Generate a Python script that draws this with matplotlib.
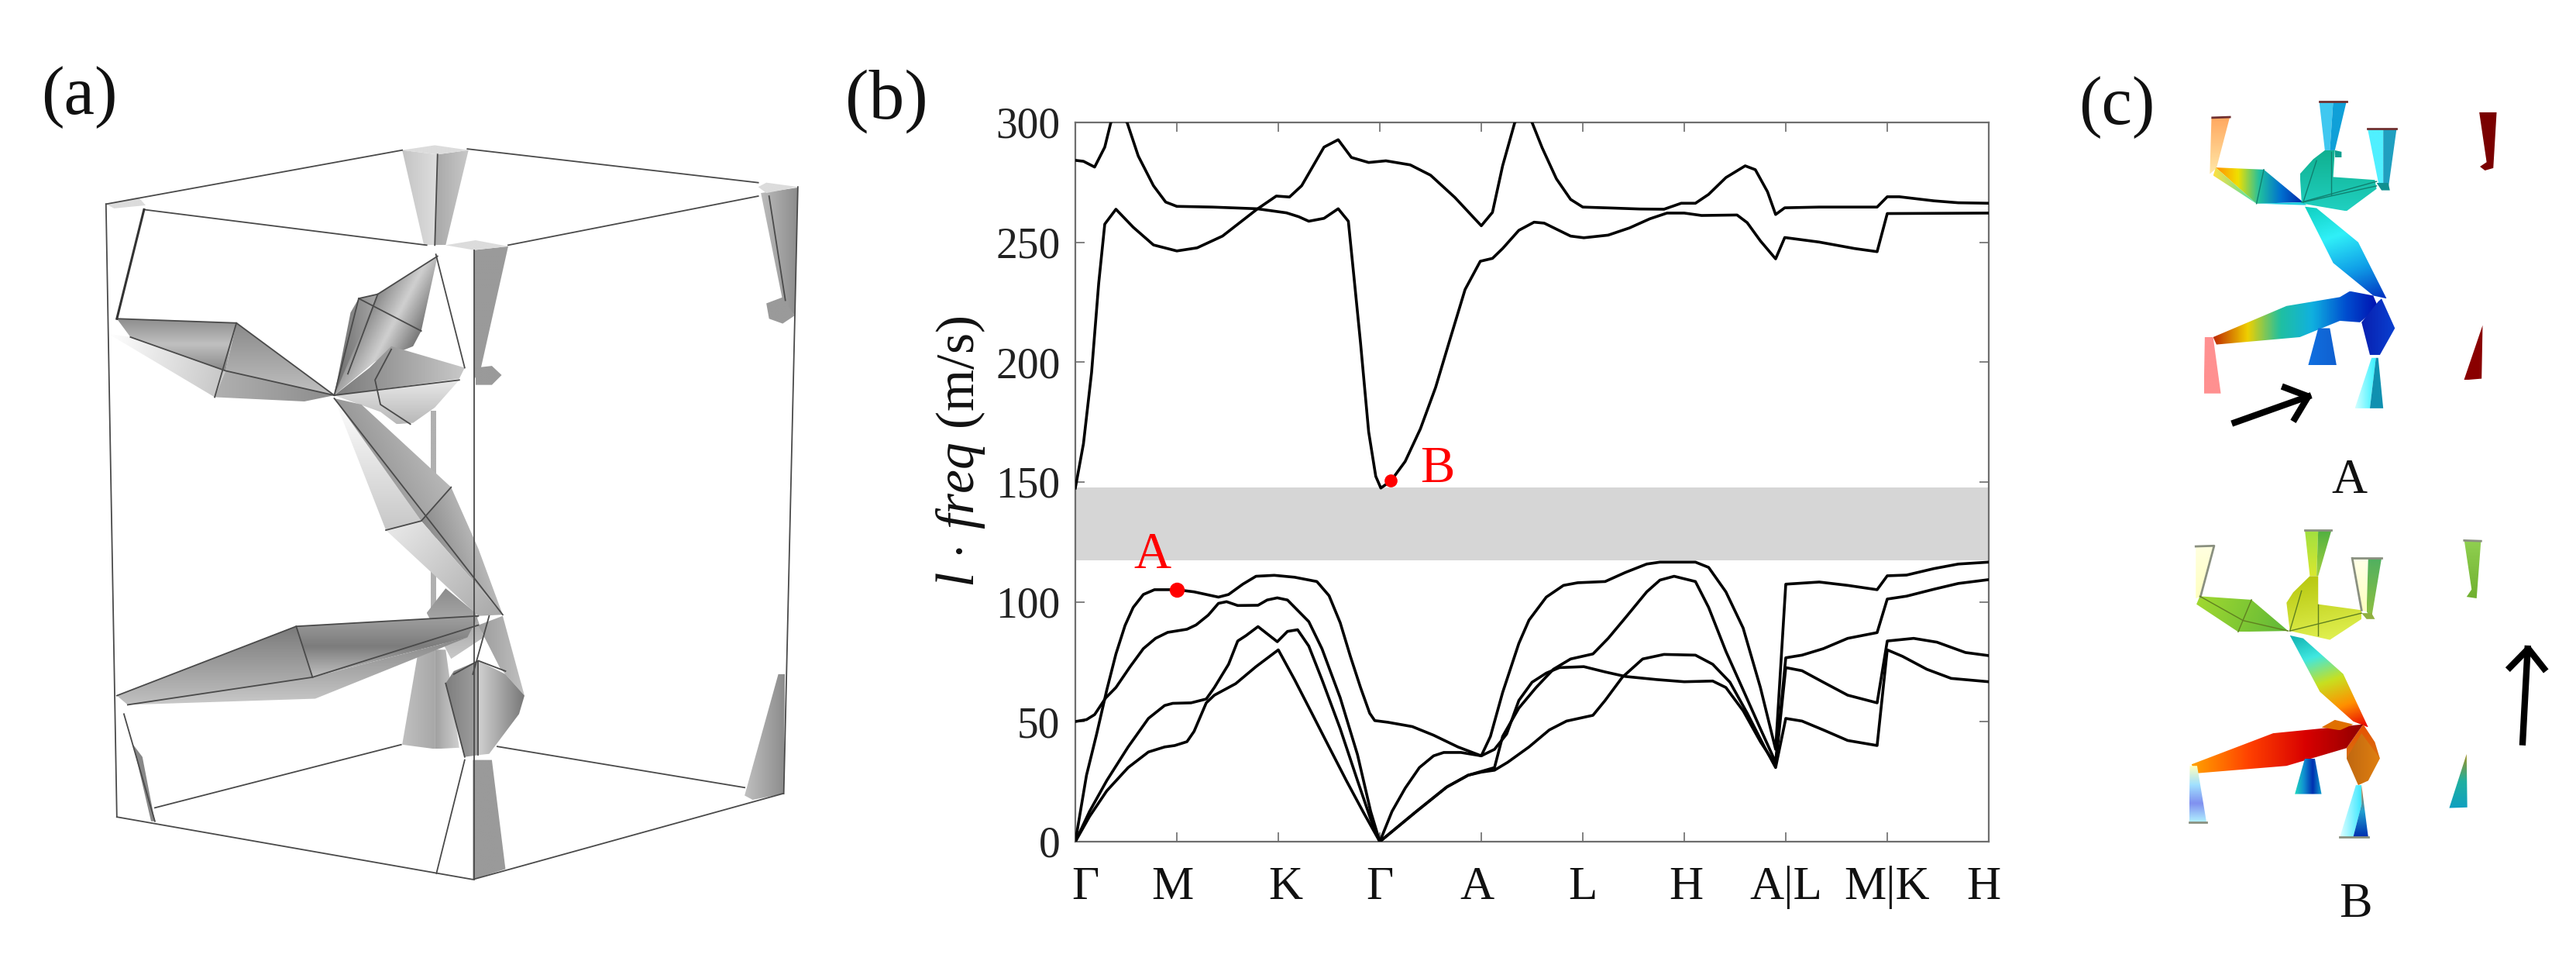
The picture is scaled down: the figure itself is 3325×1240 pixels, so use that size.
import numpy as np
import matplotlib
matplotlib.use('Agg')
import matplotlib.pyplot as plt
from matplotlib.colors import LinearSegmentedColormap
from matplotlib.patches import Polygon

plt.rcParams['font.family'] = ['Liberation Serif', 'DejaVu Serif']
plt.rcParams['mathtext.fontset'] = 'custom'
plt.rcParams['mathtext.rm'] = 'Liberation Serif'
plt.rcParams['mathtext.it'] = 'Liberation Serif:italic'

W, H = 3325, 1240

# ---------- panel (b) data ----------
x_tick_labels = ['Γ', 'M', 'K', 'Γ', 'A', 'L', 'H', 'A|L', 'M|K', 'H']
x_label_pos = [0.10, 0.96, 2.07, 3.0, 3.96, 5.0, 6.02, 7.0, 8.0, 8.95]
y_ticks = [0, 50, 100, 150, 200, 250, 300]
gap_low, gap_high = 117.3, 147.8
point_a = (1.0, 105.0)
point_b = (3.11, 150.5)

b1_t = [0, .11, .21, .31, .40, .49, .57, .67, .78, 1.0, 1.17, 1.41, 1.51, 1.65, 1.78, 1.96, 2.16, 2.38, 2.50, 2.61, 2.71, 2.81, 2.90, 2.95, 3.08, 3.32, 3.53, 3.77, 4.0, 4.09, 4.21, 4.37, 4.47, 4.64, 4.81, 4.95, 5.22, 5.42, 5.63, 5.76, 6.11, 6.24, 6.41, 6.58, 6.75, 6.90, 7.0, 7.33, 7.61, 7.90, 8.0, 8.19, 8.46, 8.70, 9.0]
b1_v = [0, 27.7, 44.9, 63.3, 78.3, 90.2, 97.7, 103.1, 105.1, 105.1, 104.2, 102.0, 103.1, 107.4, 110.7, 111.1, 110.3, 108.5, 102.6, 91.3, 77.3, 64.3, 53.6, 50.5, 49.8, 48.0, 44.4, 39.5, 35.8, 43.9, 62.2, 82.7, 92.4, 102.0, 106.9, 108.0, 108.5, 112.3, 115.8, 116.6, 116.6, 114.4, 104.2, 89.1, 64.3, 38.5, 107.4, 108.3, 106.9, 105.1, 110.9, 111.2, 113.9, 115.8, 116.6]

b2_t = [0, .11, .19, .30, .40, .54, .67, .79, .91, 1.10, 1.19, 1.31, 1.41, 1.49, 1.60, 1.80, 1.89, 1.99, 2.09, 2.30, 2.43, 2.61, 2.78, 2.91, 3.0, 3.36, 3.66, 3.87, 4.0, 4.13, 4.21, 4.37, 4.54, 4.71, 4.88, 5.10, 5.25, 5.42, 5.63, 5.76, 5.90, 6.11, 6.24, 6.41, 6.58, 6.75, 6.90, 7.0, 7.16, 7.37, 7.61, 7.90, 8.0, 8.19, 8.46, 8.70, 9.0]
b2_v = [50.1, 50.9, 53.0, 60.0, 64.3, 73.0, 80.5, 84.8, 87.3, 88.6, 90.4, 94.5, 99.4, 100.1, 98.5, 98.6, 100.8, 101.7, 100.8, 91.8, 80.5, 60.0, 36.3, 12.6, 0, 12.6, 22.8, 27.7, 29.3, 30.9, 43.9, 55.7, 64.3, 71.9, 76.2, 78.3, 84.8, 93.4, 104.2, 109.1, 110.7, 108.5, 97.7, 79.4, 63.3, 47.1, 33.1, 76.7, 77.8, 80.5, 84.8, 87.2, 101.2, 102.4, 105.3, 107.7, 109.3]

b3_t = [0, .14, .31, .52, .72, .88, .96, 1.14, 1.29, 1.37, 1.51, 1.60, 1.68, 1.80, 1.99, 2.09, 2.19, 2.30, 2.43, 2.61, 2.78, 2.91, 3.0, 3.12, 3.25, 3.39, 3.53, 3.63, 3.80, 4.0, 4.13, 4.25, 4.37, 4.50, 4.64, 4.77, 5.01, 5.22, 5.42, 5.73, 6.0, 6.28, 6.41, 6.58, 6.75, 6.90, 7.0, 7.16, 7.37, 7.61, 7.90, 8.0, 8.26, 8.49, 8.77, 9.0]
b3_v = [0, 12.6, 25.5, 39.5, 51.4, 56.8, 57.7, 57.9, 59.5, 64.3, 74.0, 83.7, 85.9, 89.7, 83.4, 87.7, 88.4, 81.6, 67.6, 47.1, 25.5, 9.4, 0, 12.6, 22.3, 30.9, 35.8, 37.2, 37.2, 35.8, 38.5, 44.9, 58.9, 66.5, 70.3, 72.6, 73.0, 70.8, 68.9, 67.6, 66.7, 67.0, 64.3, 54.6, 41.7, 32.0, 72.6, 71.3, 66.5, 61.1, 57.9, 83.7, 84.8, 83.2, 78.9, 77.6]

b4_t = [0, .14, .31, .52, .72, .88, .98, 1.10, 1.17, 1.29, 1.37, 1.58, 1.78, 2.0, 2.16, 2.33, 2.50, 2.67, 2.84, 3.0, 3.36, 3.66, 3.87, 4.0, 4.13, 4.26, 4.47, 4.67, 4.84, 5.10, 5.22, 5.39, 5.59, 5.80, 6.11, 6.28, 6.45, 6.62, 6.79, 6.90, 7.0, 7.16, 7.37, 7.61, 7.90, 8.0, 8.15, 8.39, 8.63, 9.0]
b4_v = [0, 10.5, 21.2, 30.9, 37.4, 39.5, 40.1, 41.7, 46.0, 57.9, 61.1, 65.9, 73.0, 80.0, 67.6, 53.6, 39.5, 25.5, 12.1, 0, 12.6, 22.8, 27.7, 29.0, 29.8, 33.1, 39.5, 46.6, 50.3, 52.7, 58.9, 68.6, 76.2, 78.1, 77.8, 74.0, 66.5, 53.6, 39.5, 30.9, 51.4, 50.3, 46.6, 42.2, 40.1, 80.0, 77.3, 71.9, 68.1, 66.7]

b5_t = [0, .08, .16, .23, .29, .40, .57, .77, 1.0, 1.20, 1.45, 1.79, 1.98, 2.11, 2.23, 2.45, 2.59, 2.72, 2.89, 3.06, 3.30, 3.50, 3.74, 4.0, 4.11, 4.21, 4.33, 4.42, 4.50, 4.60, 4.74, 4.88, 5.0, 5.29, 5.56, 5.80, 5.97, 6.11, 6.24, 6.41, 6.60, 6.70, 6.82, 6.90, 6.99, 7.33, 7.90, 8.0, 8.12, 8.46, 8.70, 9.0]
b5_v = [147.5, 166, 195.7, 232.8, 257.6, 263.8, 256.3, 248.9, 246.4, 247.7, 252.6, 263.8, 269.3, 268.9, 273.6, 289.7, 292.8, 285.4, 283.3, 284.0, 282.3, 278.0, 268.7, 256.9, 262.5, 281.9, 300, 304.5, 300, 289.4, 276.5, 267.9, 264.7, 264.3, 263.9, 263.8, 266.3, 266.3, 270.0, 277.0, 281.9, 280.3, 271.1, 261.6, 264.4, 264.7, 264.7, 269.0, 269.0, 267.3, 266.5, 266.3]

b6_t = [0, .08, .19, .29, .35, .42, .51, .62, .77, .89, 1.0, 1.35, 1.79, 2.08, 2.20, 2.30, 2.45, 2.59, 2.69, 2.74, 2.81, 2.89, 2.96, 3.01, 3.11, 3.25, 3.40, 3.55, 3.69, 3.84, 3.99, 4.11, 4.21, 4.37, 4.52, 4.62, 4.74, 4.88, 5.01, 5.25, 5.46, 5.66, 5.83, 6.0, 6.17, 6.52, 6.62, 6.75, 6.90, 6.99, 7.33, 7.68, 7.90, 8.0, 9.0]
b6_v = [284.2, 283.8, 281.4, 289.7, 300, 304, 300, 286, 273.6, 266.8, 265.0, 264.7, 264.0, 262.3, 260.7, 258.8, 260.0, 264.0, 258.8, 237.8, 208.1, 171, 152.4, 147.5, 150.5, 158.6, 172.2, 189.5, 209.3, 230.3, 242.1, 243.3, 247.4, 255.0, 258.4, 258.0, 255.5, 252.6, 251.9, 253.0, 256.0, 259.8, 262.2, 262.2, 261.2, 261.4, 258.2, 250.6, 243.1, 252.0, 250.1, 247.4, 246.1, 262.0, 262.2]

bands = [(b1_t, b1_v), (b2_t, b2_v), (b3_t, b3_v), (b4_t, b4_v), (b5_t, b5_v), (b6_t, b6_v)]

# ---------- panel (a) sketch: gray shaded solids, in sketch units ----------
LG = ['#f4f4f4', '#c8c8c8']
MG = ['#c4c4c4', '#8c8c8c']
DG = ['#8a8a8a', '#b8b8b8']
FL = ['#9a9a9a', '#9a9a9a']
CAP = ['#dcdcdc', '#dcdcdc']
sketch_a = [
    ([(740,1215),(770,1060),(800,1060),(800,1222)], ['#c0c0c0','#a8a8a8'], (1,0)),
    ([(800,1060),(820,1060),(845,1220),(800,1222)], ['#a0a0a0','#d0d0d0'], (1,0)),
    ([(793,670),(802,670),(802,1000),(793,1000)], ['#b0b0b0','#b0b0b0'], (1,0)),
    ([(740,245),(805,252),(800,400),(780,400)], ['#c4c4c4','#dedede'], (1,0)),
    ([(805,252),(862,245),(820,400),(800,400)], ['#a8a8a8','#c8c8c8'], (1,0)),
    ([(740,245),(800,237),(862,245),(805,252)], CAP, (1,0)),
    ([(872,408),(935,402),(885,600),(872,620)], FL, (1,0)),
    ([(820,400),(875,392),(935,402),(872,408)], CAP, (1,0)),
    ([(875,600),(905,597),(923,612),(905,628),(875,628)], FL, (1,0)),
    ([(1400,315),(1468,306),(1462,515),(1440,490)], ['#bcbcbc','#8c8c8c'], (1,0)),
    ([(1410,495),(1440,485),(1462,515),(1440,528),(1415,520)], FL, (1,0)),
    ([(1395,305),(1410,298),(1468,305),(1410,315)], CAP, (1,0)),
    ([(195,333),(255,322),(268,335),(210,340)], CAP, (1,0)),
    ([(215,520),(435,527),(415,605),(240,550)], ['#8c8c8c','#c0c0c0','#8a8a8a'], (0,1)),
    ([(240,550),(415,605),(395,648),(200,545)], ['#ffffff','#c8c8c8'], (1,.3)),
    ([(435,527),(615,645),(415,605)], ['#8a8a8a','#c0c0c0'], (0,1)),
    ([(415,605),(615,645),(560,655),(395,648)], ['#b0b0b0','#8c8c8c'], (1,0)),
    ([(615,645),(645,510),(660,487),(695,480),(690,540)], ['#6c6c6c','#a8a8a8'], (1,0)),
    ([(695,480),(805,418),(775,540),(760,565),(690,590),(615,645)], ['#8a8a8a','#d0d0d0','#7a7a7a'], (1,.6)),
    ([(680,600),(720,565),(855,600),(845,618),(615,645)], ['#7a7a7a','#c8c8c8'], (1,0)),
    ([(615,645),(845,620),(800,665),(760,690),(730,692),(700,672)], ['#e8e8e8','#b8b8b8'], (0,1)),
    ([(615,650),(775,850),(710,865)], ['#ffffff','#c8c8c8'], (0,1)),
    ([(615,650),(665,660),(830,795),(775,850)], ['#989898','#b8b8b8'], (1,-.6)),
    ([(775,850),(830,795),(880,895),(925,1003)], ['#8a8a8a','#b8b8b8'], (1,-.4)),
    ([(710,865),(775,850),(925,1003),(880,1005)], ['#e8e8e8','#a8a8a8'], (1,1)),
    ([(785,1000),(820,960),(875,1000),(890,1040),(830,1075)], ['#8c8c8c','#c8c8c8'], (0,1)),
    ([(215,1135),(545,1022),(575,1105),(235,1150)], ['#7a7a7a','#c0c0c0'], (0,1)),
    ([(545,1022),(880,1005),(860,1040),(575,1105)], ['#a0a0a0','#7c7c7c','#c0c0c0'], (0,1)),
    ([(235,1150),(575,1105),(860,1040),(580,1140)], ['#888888','#c8c8c8'], (0,1)),
    ([(880,1020),(925,1005),(965,1135),(920,1090)], ['#9c9c9c','#c0c0c0'], (1,0)),
    ([(855,1235),(820,1115),(835,1095),(880,1078),(880,1232)], ['#7e7e7e','#a0a0a0'], (1,0)),
    ([(880,1078),(930,1100),(965,1135),(955,1165),(900,1230),(880,1232)], ['#d0d0d0','#787878'], (1,0)),
    ([(870,1240),(905,1240),(930,1418),(870,1435)], FL, (1,0)),
    ([(245,1215),(262,1235),(285,1340),(278,1340)], ['#888888','#888888'], (1,0)),
    ([(1432,1100),(1444,1100),(1442,1295),(1385,1305),(1370,1298)], ['#c0c0c0','#8c8c8c'], (1,0)),
]
edges_a = [
    [(195,333),(740,245)], [(860,243),(1395,298)], [(1395,320),(935,400)], [(265,342),(785,400)],
    [(195,333),(215,1333)], [(1468,305),(1442,1295)], [(872,408),(872,1435)],
    [(215,1333),(870,1435),(1440,1295)], [(285,1318),(738,1215)], [(915,1218),(1370,1285)],
    [(802,415),(855,600)], [(228,1165),(285,1340)], [(855,1240),(803,1425)],
    [(805,252),(800,400)], [(1415,320),(1445,490)],
    [(215,520),(435,527),(615,645)], [(435,527),(395,648)], [(240,550),(415,605),(615,645)],
    [(615,645),(660,487),(695,480),(805,418)], [(695,480),(640,610)], [(660,487),(775,540)],
    [(615,645),(845,620)], [(720,570),(690,620),(700,660),(755,692)],
    [(615,650),(925,1003)], [(830,795),(775,850),(710,865)], [(215,1135),(545,1022),(880,1005)],
    [(545,1022),(575,1105)], [(235,1150),(575,1105),(880,1020)], [(835,1100),(880,1078),(930,1095)],
    [(880,1078),(880,1232)], [(900,1005),(870,1100)], [(855,1235),(820,1115)],
]
heavy_a = [[(265,342),(215,520)]]

# ---------- panel (c) sketches, coloured displacement fields ----------
sketch_ca = [
    ([(475,240),(530,238),(490,410),(470,430)], ['#ffa860','#ffe8a8'], (0,1)),
    ([(798,185),(840,185),(830,350),(815,350)], ['#40c8f0','#40c8f0'], (1,0)),
    ([(840,185),(880,185),(845,350),(830,350)], ['#10a0d8','#10a0d8'], (1,0)),
    ([(942,278),(990,278),(990,460),(975,460)], ['#50f0ff','#50f0ff'], (1,0)),
    ([(990,278),(1030,278),(1005,480),(990,460)], ['#20a0c0','#20a0c0'], (1,0)),
    ([(1278,222),(1330,222),(1320,410),(1295,418),(1280,405),(1300,390)], ['#7a0000','#7a0000'], (1,0)),
    ([(488,408),(632,415),(750,525),(610,530)], ['#ff9000','#f0e000','#20c0a0','#0070d0','#0028a8'], (1,0)),
    ([(480,435),(488,408),(610,530)], ['#ffe040','#40e0b0'], (1,0)),
    ([(610,530),(750,525),(760,535),(620,530)], ['#20d0e0','#20d0e0'], (1,0)),
    ([(745,520),(740,430),(780,380),(815,350),(845,350),(840,440),(965,450),(970,480),(880,555),(750,530)], ['#10b090','#20d0c0'], (0,1)),
    ([(845,350),(865,355),(865,375),(845,375)], ['#10a090','#10a090'], (1,0)),
    ([(970,460),(1005,460),(1010,485),(985,485)], ['#109090','#109090'], (1,0)),
    ([(755,540),(790,545),(915,660),(1000,850),(960,840),(840,730)], ['#10d0c0','#30f0f8','#10a0e8','#0030c0'], (.4,1)),
    ([(480,980),(700,875),(860,845),(890,825),(960,840),(975,880),(920,930),(860,925),(740,980),(490,1005)], ['#c03000','#f0d000','#20c0a0','#10b0e0','#0050d0','#0010b0'], (1,0)),
    ([(925,930),(975,860),(985,850),(1025,950),(980,1040),(950,1040)], ['#0820b0','#0a40d0'], (1,0)),
    ([(795,950),(830,950),(850,1075),(765,1075)], ['#1070e0','#1060d0'], (1,0)),
    ([(955,1050),(968,1050),(950,1220),(905,1220)], ['#d0ffff','#30f0ff'], (1,0)),
    ([(968,1050),(975,1050),(990,1220),(950,1220)], ['#1090b0','#1090b0'], (1,0)),
    ([(455,980),(480,980),(503,1170),(452,1170)], ['#ff9090','#ff9090'], (1,0)),
    ([(1288,940),(1285,1120),(1232,1125)], ['#8a0000','#8a0000'], (1,0)),
]
edges_ca = [[(478,240),(530,238)], [(798,185),(880,185)], [(942,278),(1030,278)]]
inner_ca = [[(750,525),(790,385)], [(835,355),(835,500)], [(750,525),(970,470)], [(610,530),(632,415)], [(745,525),(970,455)]]
arrow_ca = [[(545,1268),(765,1180)], [(695,1150),(765,1180),(725,1255)]]

sketch_cb = [
    ([(428,170),(483,168),(442,340),(428,345)], ['#ffffe0','#ffffc0'], (0,1)),
    ([(755,115),(795,115),(790,270),(770,270)], ['#a0e040','#d8e830'], (0,1)),
    ([(795,115),(835,115),(795,270),(790,270)], ['#50b040','#a0d040'], (0,1)),
    ([(897,210),(945,210),(940,390),(925,385)], ['#ffffe8','#ffffc0'], (0,1)),
    ([(945,210),(985,210),(955,410),(940,390)], ['#50b060','#90c040'], (0,1)),
    ([(1233,150),(1283,152),(1270,345),(1240,340),(1255,315)], ['#90d050','#70b030'], (0,1)),
    ([(440,338),(595,350),(705,455),(555,458),(430,365)], ['#a0d830','#60b838'], (1,.3)),
    ([(710,455),(700,360),(720,325),(770,270),(795,270),(795,365),(925,385),(925,415),(830,485)], ['#b8c810','#e0f050'], (.2,1)),
    ([(925,395),(955,395),(965,415),(940,415)], ['#90b040','#90b040'], (1,0)),
    ([(710,470),(750,480),(870,600),(945,780),(900,760),(800,660)], ['#10b0b0','#40e8e0','#c8e020','#ff9000','#e80000'], (.4,1)),
    ([(880,850),(930,770),(965,830),(980,885),(880,885)], ['#e85000','#d87010'], (0,1)),
    ([(415,905),(660,800),(930,770),(880,850),(700,910),(430,935)], ['#ffa000','#ff4000','#d80000','#900000'], (1,0)),
    ([(805,780),(845,755),(900,770),(860,790)], ['#e07000','#e07000'], (1,0)),
    ([(925,800),(980,885),(945,960),(915,975),(880,885)], ['#c06810','#e08010'], (1,0)),
    ([(755,885),(785,885),(805,1005),(725,1005)], ['#20d8c0','#1090d0','#0030b0','#10a0d0'], (1,0)),
    ([(908,975),(925,975),(925,1040),(900,1150),(860,1150)], ['#e0ffff','#40e8ff'], (1,0)),
    ([(925,975),(945,1150),(900,1150),(925,1040)], ['#d07020','#20a0d0','#0030b0'], (0,1)),
    ([(410,910),(432,910),(460,1100),(408,1100)], ['#ffffc0','#a0e0ff','#8090f0','#b0f0ff'], (0,1)),
    ([(1240,870),(1242,1050),(1188,1052)], ['#a09020','#20b0a0','#10a0c0'], (0,1)),
]
edges_cb = [[(428,170),(483,168),(442,340)], [(755,115),(835,115)], [(897,210),(985,210)],
            [(897,210),(925,385)], [(1233,150),(1283,152)], [(408,1100),(460,1100)], [(860,1150),(945,1150)]]
inner_cb = [[(710,455),(745,320)], [(795,365),(795,470)], [(710,455),(925,395)], [(555,458),(595,350)], [(440,338),(570,420),(705,455)]]
arrow_cb = [[(1408,830),(1423,515)], [(1370,578),(1425,515),(1472,582)]]


def px_axes(x, y, w, h):
    ax = fig.add_axes([x / W, 1 - (y + h) / H, w / W, h / H])
    ax.set_axis_off()
    return ax


def draw_solid(ax, pts, stops, direction, z):
    pts = np.array(pts, float)
    x0, y0 = pts.min(0)
    x1, y1 = pts.max(0)
    X, Y = np.meshgrid(np.linspace(x0, x1, 60), np.linspace(y0, y1, 60))
    d = np.array(direction, float)
    s = pts @ d
    t = ((X * d[0] + Y * d[1]) - s.min()) / max(s.max() - s.min(), 1e-6)
    cmap = LinearSegmentedColormap.from_list('g', stops)
    im = ax.imshow(np.clip(t, 0, 1), cmap=cmap, vmin=0, vmax=1, extent=(x0, x1, y1, y0),
                   aspect='auto', interpolation='bilinear', zorder=z)
    clip = Polygon(pts, closed=True, transform=ax.transData, fc='none', ec='none')
    ax.add_patch(clip)
    im.set_clip_path(clip)


def draw_lines(ax, lines, color, lw, z=5):
    for e in lines:
        e = np.array(e)
        ax.plot(e[:, 0], e[:, 1], color=color, lw=lw, zorder=z, solid_joinstyle='round')


def draw_sketch(ax, solids):
    for i, (pts, stops, d) in enumerate(solids):
        draw_solid(ax, pts, stops, d, 2 + i * 0.01)


def finish(ax):
    ax.set_xlim(0, 1568)
    ax.set_ylim(1568, 0)


fig = plt.figure(figsize=(W / 100, H / 100), dpi=100, facecolor='white')

# panel (a)
ax_a = px_axes(0, 0, 1100, 1240)
draw_sketch(ax_a, sketch_a)
draw_lines(ax_a, edges_a, '#4a4a4a', 1.3)
draw_lines(ax_a, heavy_a, '#333333', 2.2)
finish(ax_a)

# panel (b)
ax = fig.add_axes([1388 / W, 1 - 1086 / H, (2567 - 1388) / W, (1086 - 158) / H])
ax.axhspan(gap_low, gap_high, color='#d6d6d6', lw=0, zorder=1)
for t, v in bands:
    ax.plot(t, v, color='black', lw=2.6, zorder=3, solid_joinstyle='round')
ax.plot(*point_a, 'o', color='#ff0000', ms=14, mew=0, zorder=4)
ax.plot(*point_b, 'o', color='#ff0000', ms=12, mew=0, zorder=4)
ax.text(0.76, 114, 'A', color='#ff0000', fontsize=48, ha='center', va='baseline', zorder=5)
ax.text(3.57, 150, 'B', color='#ff0000', fontsize=48, ha='center', va='baseline', zorder=5)
ax.set_xlim(0, 9)
ax.set_ylim(0, 300)
ax.set_xticks(range(10))
ax.set_xticklabels([])
ax.set_yticks(y_ticks)
ax.tick_params(axis='both', which='major', direction='in', top=True, right=True,
               length=8.5, width=1.3, color='#777777')
ax.tick_params(axis='y', labelsize=40, pad=14, labelcolor='#222222')
for s in ax.spines.values():
    s.set_color('#6e6e6e')
    s.set_linewidth(1.6)
for p, lab in zip(x_label_pos, x_tick_labels):
    ax.text(p, -24, lab, fontsize=44, ha='center', va='baseline', color='#111111', clip_on=False)
fig.text(1240 / W, 1 - 583 / H, r'$\mathit{l}\,\cdot\,\mathit{freq}$ (m/s)', rotation=90,
         fontsize=50, ha='center', va='center', color='#111111')

# panel (c)
ax_ca = px_axes(2650, 60, 675, 600)
draw_sketch(ax_ca, sketch_ca)
draw_lines(ax_ca, edges_ca, '#703030', 2.0)
draw_lines(ax_ca, inner_ca, '#108070', 1.0)
draw_lines(ax_ca, arrow_ca, 'black', 6.0, z=6)
finish(ax_ca)

ax_cb = px_axes(2650, 640, 675, 600)
draw_sketch(ax_cb, sketch_cb)
draw_lines(ax_cb, edges_cb, '#8a9080', 2.0)
draw_lines(ax_cb, inner_cb, '#608020', 1.0)
draw_lines(ax_cb, arrow_cb, 'black', 6.0, z=6)
finish(ax_cb)

# panel letters and mode names
fig.text(102 / W, 1 - 147 / H, '(a)', fontsize=64, ha='center', va='baseline', color='#111111')
fig.text(1144 / W, 1 - 153 / H, '(b)', fontsize=66, ha='center', va='baseline', color='#111111')
fig.text(2732 / W, 1 - 160 / H, '(c)', fontsize=64, ha='center', va='baseline', color='#111111')
fig.text(3032 / W, 1 - 636 / H, 'A', fontsize=46, ha='center', va='baseline', color='#111111')
fig.text(3040 / W, 1 - 1183 / H, 'B', fontsize=46, ha='center', va='baseline', color='#111111')

fig.savefig('out.png', dpi=100, facecolor='white')
